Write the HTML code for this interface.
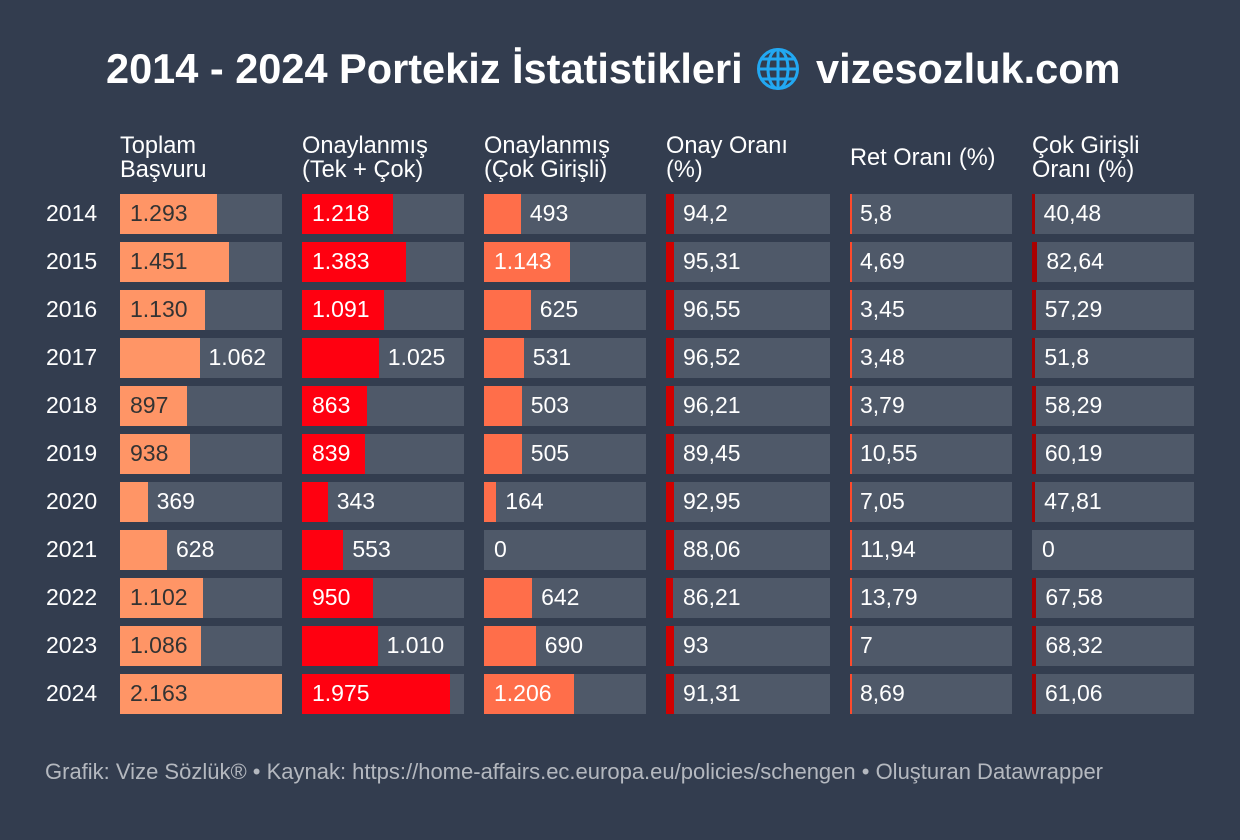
<!DOCTYPE html>
<html><head><meta charset="utf-8">
<style>
*{margin:0;padding:0;box-sizing:border-box}
body{width:1240px;height:840px;background:#333d4f;font-family:"Liberation Sans",Arial,sans-serif;position:relative;overflow:hidden;color:#fff}
.t{position:absolute;top:48px;font-size:41.5px;line-height:42px;font-weight:bold;color:#fff;white-space:nowrap}
.h{position:absolute;top:134px;height:48px;display:flex;align-items:center;font-size:23.6px;line-height:24px;color:#fff;white-space:nowrap}
.y{position:absolute;left:46px;font-size:23px;line-height:38px;height:40px;color:#fff}
.c{position:absolute;width:162px;height:40px;background:#4f5969}
.c i{position:absolute;left:0;top:0;height:40px;display:block}
.c b{position:absolute;top:0;font-weight:normal;line-height:38px;font-size:23px;color:#fff;white-space:nowrap}
.c b.dk{color:#333}
.w{width:164px}
.f{position:absolute;left:45px;top:761px;font-size:22px;line-height:22px;color:#b4b8bf;white-space:nowrap}
</style></head><body>

<div class="t" style="left:106px">2014 - 2024 Portekiz İstatistikleri</div>
<svg style="position:absolute;left:756px;top:47px" width="44" height="44" viewBox="0 0 44 44">
<g fill="none" stroke="#22a8f2" stroke-width="3">
<circle cx="22" cy="22" r="19.5"/>
<line x1="22" y1="2.5" x2="22" y2="41.5"/>
<ellipse cx="22" cy="22" rx="10" ry="19.5"/>
<line x1="2.5" y1="22" x2="41.5" y2="22"/>
<line x1="5.5" y1="12" x2="38.5" y2="12"/>
<line x1="5.5" y1="32" x2="38.5" y2="32"/>
</g></svg>
<div class="t" style="left:816px">vizesozluk.com</div>

<div class="h" style="left:120px">Toplam<br>Başvuru</div>
<div class="h" style="left:302px">Onaylanmış<br>(Tek + Çok)</div>
<div class="h" style="left:484px">Onaylanmış<br>(Çok Girişli)</div>
<div class="h" style="left:666px">Onay Oranı<br>(%)</div>
<div class="h" style="left:850px">Ret Oranı (%)</div>
<div class="h" style="left:1032px">Çok Girişli<br>Oranı (%)</div>

<div class="y" style="top:194px">2014</div>
<div class="y" style="top:242px">2015</div>
<div class="y" style="top:290px">2016</div>
<div class="y" style="top:338px">2017</div>
<div class="y" style="top:386px">2018</div>
<div class="y" style="top:434px">2019</div>
<div class="y" style="top:482px">2020</div>
<div class="y" style="top:530px">2021</div>
<div class="y" style="top:578px">2022</div>
<div class="y" style="top:626px">2023</div>
<div class="y" style="top:674px">2024</div>

<!-- Column 1 -->
<div class="c" style="left:120px;top:194px"><i style="width:96.8px;background:#ff9566"></i><b class="dk" style="left:10px">1.293</b></div>
<div class="c" style="left:120px;top:242px"><i style="width:108.7px;background:#ff9566"></i><b class="dk" style="left:10px">1.451</b></div>
<div class="c" style="left:120px;top:290px"><i style="width:84.6px;background:#ff9566"></i><b class="dk" style="left:10px">1.130</b></div>
<div class="c" style="left:120px;top:338px"><i style="width:79.5px;background:#ff9566"></i><b style="left:88.5px">1.062</b></div>
<div class="c" style="left:120px;top:386px"><i style="width:67.2px;background:#ff9566"></i><b class="dk" style="left:10px">897</b></div>
<div class="c" style="left:120px;top:434px"><i style="width:70.3px;background:#ff9566"></i><b class="dk" style="left:10px">938</b></div>
<div class="c" style="left:120px;top:482px"><i style="width:27.6px;background:#ff9566"></i><b style="left:36.6px">369</b></div>
<div class="c" style="left:120px;top:530px"><i style="width:47px;background:#ff9566"></i><b style="left:56px">628</b></div>
<div class="c" style="left:120px;top:578px"><i style="width:82.5px;background:#ff9566"></i><b class="dk" style="left:10px">1.102</b></div>
<div class="c" style="left:120px;top:626px"><i style="width:81.3px;background:#ff9566"></i><b class="dk" style="left:10px">1.086</b></div>
<div class="c" style="left:120px;top:674px"><i style="width:162px;background:#ff9566"></i><b class="dk" style="left:10px">2.163</b></div>

<!-- Column 2 -->
<div class="c" style="left:302px;top:194px"><i style="width:91.2px;background:#ff0010"></i><b style="left:10px">1.218</b></div>
<div class="c" style="left:302px;top:242px"><i style="width:103.6px;background:#ff0010"></i><b style="left:10px">1.383</b></div>
<div class="c" style="left:302px;top:290px"><i style="width:81.7px;background:#ff0010"></i><b style="left:10px">1.091</b></div>
<div class="c" style="left:302px;top:338px"><i style="width:76.8px;background:#ff0010"></i><b style="left:85.8px">1.025</b></div>
<div class="c" style="left:302px;top:386px"><i style="width:64.6px;background:#ff0010"></i><b style="left:10px">863</b></div>
<div class="c" style="left:302px;top:434px"><i style="width:62.8px;background:#ff0010"></i><b style="left:10px">839</b></div>
<div class="c" style="left:302px;top:482px"><i style="width:25.7px;background:#ff0010"></i><b style="left:34.7px">343</b></div>
<div class="c" style="left:302px;top:530px"><i style="width:41.4px;background:#ff0010"></i><b style="left:50.4px">553</b></div>
<div class="c" style="left:302px;top:578px"><i style="width:71.2px;background:#ff0010"></i><b style="left:10px">950</b></div>
<div class="c" style="left:302px;top:626px"><i style="width:75.6px;background:#ff0010"></i><b style="left:84.6px">1.010</b></div>
<div class="c" style="left:302px;top:674px"><i style="width:147.9px;background:#ff0010"></i><b style="left:10px">1.975</b></div>

<!-- Column 3 -->
<div class="c" style="left:484px;top:194px"><i style="width:36.9px;background:#ff6e4a"></i><b style="left:45.9px">493</b></div>
<div class="c" style="left:484px;top:242px"><i style="width:85.6px;background:#ff6e4a"></i><b style="left:10px">1.143</b></div>
<div class="c" style="left:484px;top:290px"><i style="width:46.8px;background:#ff6e4a"></i><b style="left:55.8px">625</b></div>
<div class="c" style="left:484px;top:338px"><i style="width:39.8px;background:#ff6e4a"></i><b style="left:48.8px">531</b></div>
<div class="c" style="left:484px;top:386px"><i style="width:37.7px;background:#ff6e4a"></i><b style="left:46.7px">503</b></div>
<div class="c" style="left:484px;top:434px"><i style="width:37.8px;background:#ff6e4a"></i><b style="left:46.8px">505</b></div>
<div class="c" style="left:484px;top:482px"><i style="width:12.3px;background:#ff6e4a"></i><b style="left:21.3px">164</b></div>
<div class="c" style="left:484px;top:530px"><b style="left:10px">0</b></div>
<div class="c" style="left:484px;top:578px"><i style="width:48.1px;background:#ff6e4a"></i><b style="left:57.1px">642</b></div>
<div class="c" style="left:484px;top:626px"><i style="width:51.7px;background:#ff6e4a"></i><b style="left:60.7px">690</b></div>
<div class="c" style="left:484px;top:674px"><i style="width:90.3px;background:#ff6e4a"></i><b style="left:10px">1.206</b></div>

<!-- Column 4 -->
<div class="c w" style="left:666px;top:194px"><i style="width:8px;background:#d00000"></i><b style="left:17px">94,2</b></div>
<div class="c w" style="left:666px;top:242px"><i style="width:8.1px;background:#d00000"></i><b style="left:17px">95,31</b></div>
<div class="c w" style="left:666px;top:290px"><i style="width:8.2px;background:#d00000"></i><b style="left:17px">96,55</b></div>
<div class="c w" style="left:666px;top:338px"><i style="width:8.2px;background:#d00000"></i><b style="left:17px">96,52</b></div>
<div class="c w" style="left:666px;top:386px"><i style="width:8.2px;background:#d00000"></i><b style="left:17px">96,21</b></div>
<div class="c w" style="left:666px;top:434px"><i style="width:7.6px;background:#d00000"></i><b style="left:17px">89,45</b></div>
<div class="c w" style="left:666px;top:482px"><i style="width:7.9px;background:#d00000"></i><b style="left:17px">92,95</b></div>
<div class="c w" style="left:666px;top:530px"><i style="width:7.5px;background:#d00000"></i><b style="left:17px">88,06</b></div>
<div class="c w" style="left:666px;top:578px"><i style="width:7.3px;background:#d00000"></i><b style="left:17px">86,21</b></div>
<div class="c w" style="left:666px;top:626px"><i style="width:7.9px;background:#d00000"></i><b style="left:17px">93</b></div>
<div class="c w" style="left:666px;top:674px"><i style="width:7.8px;background:#d00000"></i><b style="left:17px">91,31</b></div>

<!-- Column 5 -->
<div class="c" style="left:850px;top:194px"><i style="width:2px;background:#ff4a2c"></i><b style="left:10px">5,8</b></div>
<div class="c" style="left:850px;top:242px"><i style="width:2px;background:#ff4a2c"></i><b style="left:10px">4,69</b></div>
<div class="c" style="left:850px;top:290px"><i style="width:2px;background:#ff4a2c"></i><b style="left:10px">3,45</b></div>
<div class="c" style="left:850px;top:338px"><i style="width:2px;background:#ff4a2c"></i><b style="left:10px">3,48</b></div>
<div class="c" style="left:850px;top:386px"><i style="width:2px;background:#ff4a2c"></i><b style="left:10px">3,79</b></div>
<div class="c" style="left:850px;top:434px"><i style="width:2px;background:#ff4a2c"></i><b style="left:10px">10,55</b></div>
<div class="c" style="left:850px;top:482px"><i style="width:2px;background:#ff4a2c"></i><b style="left:10px">7,05</b></div>
<div class="c" style="left:850px;top:530px"><i style="width:2px;background:#ff4a2c"></i><b style="left:10px">11,94</b></div>
<div class="c" style="left:850px;top:578px"><i style="width:2px;background:#ff4a2c"></i><b style="left:10px">13,79</b></div>
<div class="c" style="left:850px;top:626px"><i style="width:2px;background:#ff4a2c"></i><b style="left:10px">7</b></div>
<div class="c" style="left:850px;top:674px"><i style="width:2px;background:#ff4a2c"></i><b style="left:10px">8,69</b></div>

<!-- Column 6 -->
<div class="c" style="left:1032px;top:194px"><i style="width:2.6px;background:#aa0000"></i><b style="left:11.6px">40,48</b></div>
<div class="c" style="left:1032px;top:242px"><i style="width:5.4px;background:#aa0000"></i><b style="left:14.4px">82,64</b></div>
<div class="c" style="left:1032px;top:290px"><i style="width:3.7px;background:#aa0000"></i><b style="left:12.7px">57,29</b></div>
<div class="c" style="left:1032px;top:338px"><i style="width:3.4px;background:#aa0000"></i><b style="left:12.4px">51,8</b></div>
<div class="c" style="left:1032px;top:386px"><i style="width:3.8px;background:#aa0000"></i><b style="left:12.8px">58,29</b></div>
<div class="c" style="left:1032px;top:434px"><i style="width:3.9px;background:#aa0000"></i><b style="left:12.9px">60,19</b></div>
<div class="c" style="left:1032px;top:482px"><i style="width:3.1px;background:#aa0000"></i><b style="left:12.1px">47,81</b></div>
<div class="c" style="left:1032px;top:530px"><b style="left:10px">0</b></div>
<div class="c" style="left:1032px;top:578px"><i style="width:4.4px;background:#aa0000"></i><b style="left:13.4px">67,58</b></div>
<div class="c" style="left:1032px;top:626px"><i style="width:4.4px;background:#aa0000"></i><b style="left:13.4px">68,32</b></div>
<div class="c" style="left:1032px;top:674px"><i style="width:4px;background:#aa0000"></i><b style="left:13px">61,06</b></div>

<div class="f">Grafik: Vize Sözlük® • Kaynak: https://home-affairs.ec.europa.eu/policies/schengen • Oluşturan Datawrapper</div>
</body></html>
